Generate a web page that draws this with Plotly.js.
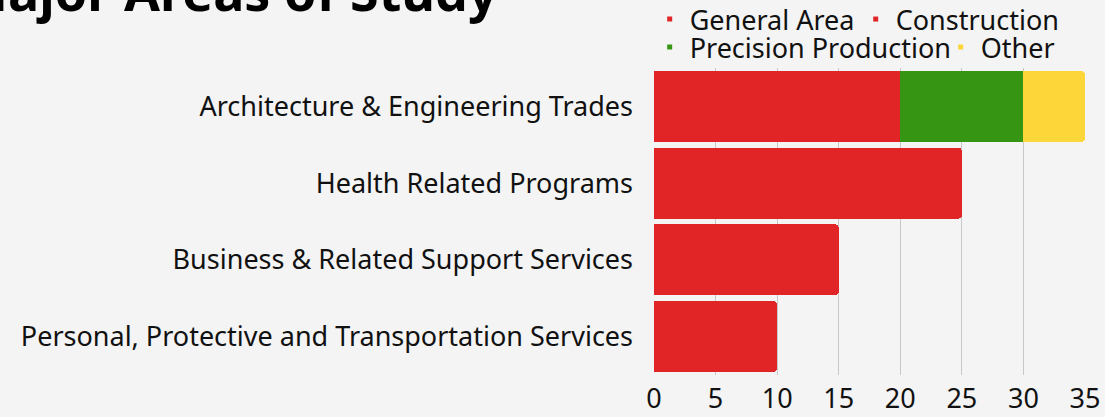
<!DOCTYPE html>
<html>
<head>
<meta charset="utf-8">
<script src="https://cdn.plot.ly/plotly-3.0.1.min.js"></script>
<style>
html,body{margin:0;padding:0;background:#F4F4F4;}
#chart{width:1105px;height:417px;}
</style>
</head>
<body>
<div id="chart"></div>
<script>
const categories = [
  "Architecture & Engineering Trades",
  "Health Related Programs",
  "Business & Related Support Services",
  "Personal, Protective and Transportation Services"
];
const generalArea = [20, 25, 15, 10];
const construction = [0, 0, 0, 0];
const precisionProduction = [10, 0, 0, 0];
const other = [5, 0, 0, 0];
const xTicks = [0, 5, 10, 15, 20, 25, 30, 35];

const RED = "#E12426", GREEN = "#379514", YELLOW = "#FDD639";
const FONT = "'Noto Sans', Lato, sans-serif";

function barTrace(name, vals, color) {
  return {type: "bar", orientation: "h", name: name, x: vals, y: categories,
    marker: {color: color, line: {width: 0}}, showlegend: false, hoverinfo: "x+name"};
}
function legendTrace(name, color, legendId) {
  return {type: "scatter", mode: "markers", name: name, x: [null], y: [null], legend: legendId,
    marker: {symbol: "square", size: 5, color: color}, showlegend: true, hoverinfo: "skip"};
}

const data = [
  barTrace("Construction", construction, RED),
  barTrace("General Area", generalArea, RED),
  barTrace("Precision Production", precisionProduction, GREEN),
  barTrace("Other", other, YELLOW),
  legendTrace("General Area", RED, "legend"),
  legendTrace("Construction", RED, "legend"),
  legendTrace("Precision Production", GREEN, "legend2"),
  legendTrace("Other", YELLOW, "legend2")
];

const legendBase = {orientation: "h", traceorder: "normal", xref: "paper", yref: "paper",
  xanchor: "left", yanchor: "top", itemwidth: 30, tracegroupgap: 0,
  font: {size: 27, family: FONT, color: "#111"}, bgcolor: "rgba(0,0,0,0)"};

const layout = {
  width: 1105, height: 417,
  paper_bgcolor: "#F4F4F4", plot_bgcolor: "#F4F4F4",
  margin: {l: 654, r: 20, t: 68, b: 42, pad: 0, autoexpand: false},
  barmode: "stack", bargap: 0.075, barcornerradius: 4,
  font: {family: FONT, size: 27, color: "#111111"},
  xaxis: {range: [0, 35], tickvals: xTicks, ticktext: xTicks.map(String),
    showgrid: true, gridcolor: "#C8C8C8", gridwidth: 1, zeroline: false,
    showline: false, ticks: "", ticklabelstandoff: 5,
    tickfont: {size: 27, family: FONT, color: "#111"}, fixedrange: true},
  yaxis: {autorange: "reversed", showgrid: false, zeroline: false, showline: false,
    ticks: "", ticklabelstandoff: 20, tickfont: {size: 27, family: FONT, color: "#111"}, fixedrange: true},
  legend: Object.assign({}, legendBase, {x: -0.01, y: 1.2378, entrywidth: 161}),
  legend2: Object.assign({}, legendBase, {x: -0.01, y: 1.1466, entrywidth: 246}),
  showlegend: true,
  annotations: [{
    text: "<b>Major Areas of Study</b>", xref: "paper", yref: "paper",
    x: -0.357, y: 1.1316, xanchor: "right", yanchor: "bottom", showarrow: false,
    font: {family: FONT, size: 52, color: "#000"}
  }]
};

Plotly.newPlot("chart", data, layout, {displayModeBar: false, staticPlot: true});
</script>
</body>
</html>
